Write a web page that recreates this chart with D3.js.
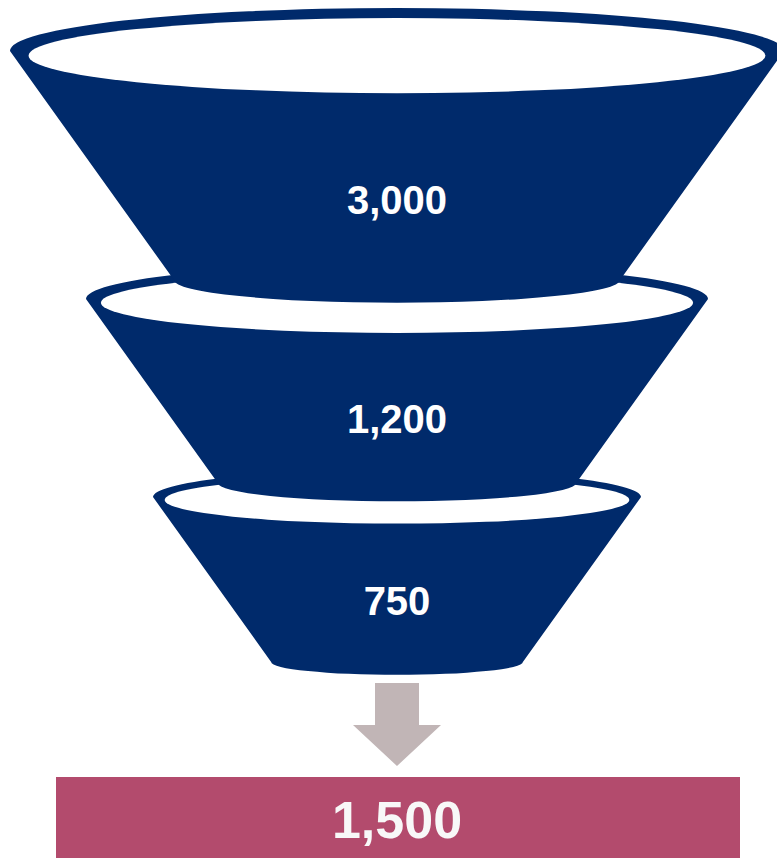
<!DOCTYPE html>
<html>
<head>
<meta charset="utf-8">
<script src="https://cdn.jsdelivr.net/npm/d3@7"></script>
<style>
  html, body { margin: 0; padding: 0; background: #ffffff; }
  svg { display: block; }
</style>
</head>
<body>
<svg id="chart" width="777" height="858"></svg>
<script>
// Funnel stages, top to bottom
const stages = ["Stage 1", "Stage 2", "Stage 3"];
const stageValues = [3000, 1200, 750];
// Final outcome shown under the arrow
const resultValue = 1500;

const cx = 397;
const navy = "#002A6B";
const arrowFill = "#C1B5B6";
const resultFill = "#B34B6D";
const fmt = d3.format(",");

// Vertical geometry of each funnel section: rim line, bottom line, rim half-width
const layout = [
  { top: 51,  bottom: 280, rim: 387 },
  { top: 299, bottom: 483, rim: 311 },
  { top: 497, bottom: 662, rim: 244 }
];
const sideSlope = 0.716;   // horizontal inset per vertical pixel
const rimRatio = 0.111;    // outer rim ellipse ry / rx
const innerRatio = 0.102;  // opening ellipse ry / rx
const baseRatio = 0.102;   // bottom arc ry / rx

const stageIndex = d3.scaleOrdinal().domain(stages).range(d3.range(stages.length));

const svg = d3.select("#chart");

// Draw lower sections first so upper ones overlap them
const drawOrder = stages.slice().reverse();
drawOrder.forEach(name => {
  const i = stageIndex(name);
  const L = layout[i];
  const R = L.rim;
  const r = R - (L.bottom - L.top) * sideSlope;
  const rimRy = R * rimRatio;
  const baseRy = r * baseRatio;
  const innerRx = R * 0.952;
  const innerRy = innerRx * innerRatio;
  const innerCy = L.top + R * 0.012;

  const g = svg.append("g").attr("class", "stage").datum(stageValues[i]);

  const body = `M${cx - R},${L.top}` +
    `A${R},${rimRy} 0 0 1 ${cx + R},${L.top}` +
    `L${cx + r},${L.bottom}` +
    `A${r},${baseRy} 0 0 1 ${cx - r},${L.bottom}Z`;
  g.append("path").attr("d", body).attr("fill", navy);

  g.append("ellipse")
    .attr("cx", cx).attr("cy", innerCy)
    .attr("rx", innerRx).attr("ry", innerRy)
    .attr("fill", "#ffffff");

  const midY = ((innerCy + innerRy) + (L.bottom + baseRy)) / 2 + 2;
  g.append("text")
    .attr("x", cx).attr("y", midY)
    .attr("text-anchor", "middle")
    .attr("dominant-baseline", "central")
    .attr("fill", "#ffffff")
    .attr("font-family", "'Liberation Sans', Arial, sans-serif")
    .attr("font-weight", "bold")
    .attr("font-size", 40)
    .text(d => fmt(d));
});

// Downward arrow
const arrow = `M${cx - 22},683 L${cx + 22},683 L${cx + 22},725 L${cx + 44},725 ` +
  `L${cx},766 L${cx - 44},725 L${cx - 22},725 Z`;
svg.append("path").attr("d", arrow).attr("fill", arrowFill);

// Outcome bar
svg.append("rect")
  .attr("x", 56).attr("y", 777)
  .attr("width", 684).attr("height", 90)
  .attr("fill", resultFill);

svg.append("text")
  .attr("x", cx).attr("y", 838)
  .attr("text-anchor", "middle")
  .attr("fill", "#F8F8F8")
  .attr("font-family", "'Liberation Sans', Arial, sans-serif")
  .attr("font-weight", "bold")
  .attr("font-size", 52)
  .text(fmt(resultValue));
</script>
</body>
</html>
